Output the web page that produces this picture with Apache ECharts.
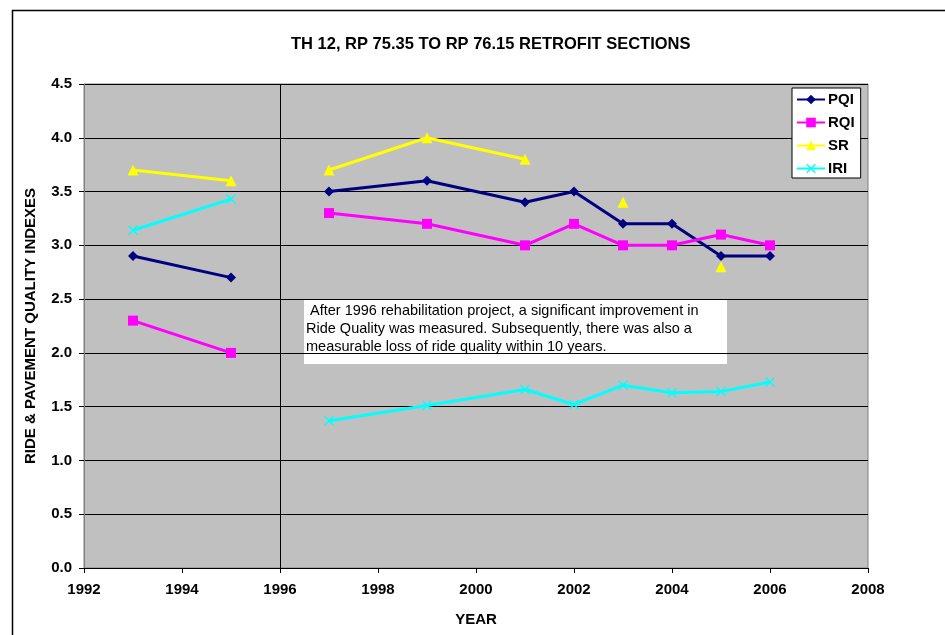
<!DOCTYPE html>
<html>
<head>
<meta charset="utf-8">
<script src="https://cdn.jsdelivr.net/npm/echarts@6/dist/echarts.min.js"></script>
<style>
  html, body { margin: 0; padding: 0; background: #fff; }
  #chart { width: 945px; height: 635px; }
</style>
</head>
<body>
<div id="chart"></div>
<script>
// years and values; null breaks the line
var years = [1993, 1995, 1996, 1997, 1999, 2001, 2002, 2003, 2004, 2005, 2006];
var pqi = [2.9, 2.7, null, 3.5, 3.6, 3.4, 3.5, 3.2, 3.2, 2.9, 2.9];
var rqi = [2.3, 2.0, null, 3.3, 3.2, 3.0, 3.2, 3.0, 3.0, 3.1, 3.0];
var sr  = [3.7, 3.6, null, 3.7, 4.0, 3.8, null, 3.4, null, 2.8, null];
var iri = [3.14, 3.43, null, 1.37, 1.51, 1.66, 1.52, 1.70, 1.63, 1.64, 1.73];
var rehabYear = 1996;
var note = ' After 1996 rehabilitation project, a significant improvement in\nRide Quality was measured. Subsequently, there was also a\nmeasurable loss of ride quality within 10 years.';

var FONT = 'Arial, "Liberation Sans", sans-serif';
var xShape = 'path://M0,1L1,0L5,4L9,0L10,1L6,5L10,9L9,10L5,6L1,10L0,9L4,5Z';

function pairs(vals) {
  return years.map(function (y, i) { return [y, vals[i] === null ? '-' : vals[i]]; });
}

function lineSeries(name, vals, color, symbol, size) {
  return {
    name: name,
    type: 'line',
    data: pairs(vals),
    symbol: symbol,
    symbolSize: size,
    showSymbol: true,
    connectNulls: false,
    lineStyle: { color: color, width: 3 },
    itemStyle: { color: color },
    emphasis: { disabled: true },
    z: 3
  };
}

var chart = echarts.init(document.getElementById('chart'));

var series = [
  lineSeries('PQI', pqi, '#000080', 'diamond', 10),
  lineSeries('RQI', rqi, '#FF00FF', 'rect', 10),
  lineSeries('SR', sr, '#FFFF00', 'triangle', 11),
  lineSeries('IRI', iri, '#00FFFF', xShape, 10)
];
// 1996 divider line
series[0].markLine = {
  silent: true,
  symbol: ['none', 'none'],
  label: { show: false },
  lineStyle: { color: '#000', width: 1, type: 'solid' },
  data: [{ xAxis: rehabYear }]
};

chart.setOption({
  animation: false,
  backgroundColor: '#fff',
  title: {
    text: 'TH 12, RP 75.35 TO RP 76.15 RETROFIT SECTIONS',
    left: 286,
    top: 31,
    textStyle: { fontFamily: FONT, fontSize: 16.5, fontWeight: 'bold', color: '#000' }
  },
  legend: {
    orient: 'vertical',
    left: 792,
    top: 88,
    itemWidth: 28,
    itemHeight: 12,
    itemGap: 8,
    padding: [4, 6, 2, 4],
    backgroundColor: '#fff',
    borderColor: '#000',
    borderWidth: 1,
    selectedMode: false,
    data: ['PQI', 'RQI', 'SR', 'IRI'],
    textStyle: { fontFamily: FONT, fontSize: 15, fontWeight: 'bold', color: '#000', padding: [0, 0, 0, -2] }
  },
  grid: {
    left: 84, right: 77, top: 84, bottom: 67,
    show: true,
    backgroundColor: '#C0C0C0',
    borderColor: '#808080',
    borderWidth: 1
  },
  xAxis: {
    type: 'value',
    min: 1992, max: 2008, interval: 2,
    name: 'YEAR',
    nameLocation: 'middle',
    nameGap: 44,
    nameTextStyle: { fontFamily: FONT, fontSize: 15, fontWeight: 'bold', color: '#000' },
    axisLine: { show: true, lineStyle: { color: '#000', width: 1 } },
    axisTick: { show: true, length: 5, lineStyle: { color: '#000' } },
    axisLabel: {
      fontFamily: FONT, fontSize: 15, fontWeight: 'bold', color: '#000', margin: 14,
      formatter: function (v) { return String(v); }
    },
    splitLine: { show: false }
  },
  yAxis: {
    type: 'value',
    min: 0, max: 4.5, interval: 0.5,
    name: 'RIDE & PAVEMENT QUALITY INDEXES',
    nameLocation: 'middle',
    nameGap: 46,
    nameTextStyle: { fontFamily: FONT, fontSize: 15, fontWeight: 'bold', color: '#000' },
    axisLine: { show: true, lineStyle: { color: '#808080', width: 1 } },
    axisTick: { show: true, length: 5, lineStyle: { color: '#000' } },
    axisLabel: {
      fontFamily: FONT, fontSize: 15, fontWeight: 'bold', color: '#000', margin: 12,
      formatter: function (v) { return v.toFixed(1); }
    },
    splitLine: { show: true, lineStyle: { color: '#000', width: 1 } }
  },
  graphic: [
    {
      type: 'rect',
      left: 10, top: 8,
      shape: { width: 960, height: 660 },
      style: { fill: 'none', stroke: '#000', lineWidth: 1.5 },
      silent: true,
      z: 0
    },
    {
      type: 'group',
      left: 304, top: 299,
      z: 10,
      children: [
        {
          type: 'rect',
          shape: { width: 423, height: 65 },
          style: { fill: '#fff', stroke: 'none' }
        },
        {
          type: 'text',
          left: 2, top: 3,
          style: {
            text: note,
            font: '14.5px ' + FONT,
            fill: '#000',
            lineHeight: 18
          }
        }
      ]
    }
  ],
  series: series
});
</script>
</body>
</html>
